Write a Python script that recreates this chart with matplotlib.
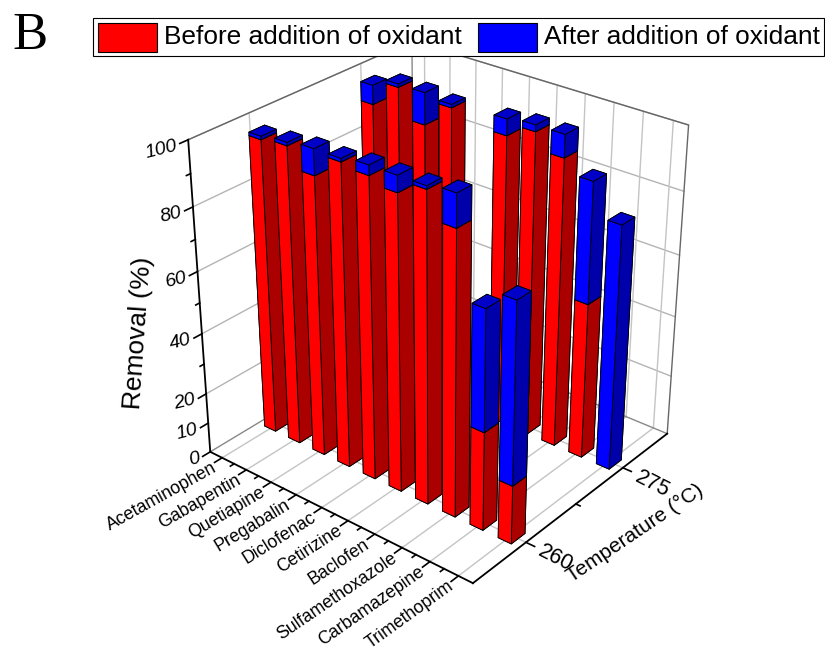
#!/usr/bin/env python3
# -*- coding: utf-8 -*-
import matplotlib
matplotlib.use('Agg')
import matplotlib.pyplot as plt
from matplotlib.patches import Rectangle
from mpl_toolkits.mplot3d import proj3d

plt.rcParams['font.family'] = ['Liberation Sans', 'DejaVu Sans']

medicaments = ['Acetaminophen', 'Gabapentin', 'Quetiapine', 'Pregabalin', 'Diclofenac',
               'Cetirizine', 'Baclofen', 'Sulfamethoxazole', 'Carbamazepine', 'Trimethoprim']
temperatures = [260, 275]
ticks_removal = [0, 10, 20, 40, 60, 80, 100]
mineurs_removal = [30, 50, 70, 90]

# removal before oxidant, and what the oxidant adds on top
avant_260 = [95, 96, 90, 97, 96, 94, 98, 90, 32, 19]
ajout_260 = [1, 1, 8, 1, 3, 5, 1, 10, 38, 57]
avant_275 = [90, 98, 89, 97, 0, 94, 98, 93, 51, 0]
ajout_275 = [6, 1, 10, 1, 0, 5, 2, 7, 38, 79]

ROUGE = ['#AA0000', '#CC0000', '#FF0000', '#FF0000', '#AA0000', '#AA0000']
BLEU = ['#0000AA', '#0000C8', '#0000FF', '#0000FF', '#0000AA', '#0000AA']

x_min, x_max = 0.5, 10.5
y_min, y_max = 252.5, 282.5
largeur, profondeur = 0.46, 2.0

fig = plt.figure(figsize=(8.25, 6.5), dpi=100)
cote, cx, cy = 700, 431, 304
ax = fig.add_axes([(cx - cote / 2) / 825, 1 - (cy + cote / 2) / 650, cote / 825, cote / 650],
                  projection='3d', computed_zorder=False)
ax.set_proj_type('persp', focal_length=0.5)
ax.view_init(elev=29, azim=-50.7)
ax.set_box_aspect((334, 316, 340), zoom=0.826)
ax.set_axis_off()

# walls and floor
for z in ticks_removal[2:]:
    ax.plot([x_min, x_min], [y_min, y_max], [z, z], color='#b4b4b4', lw=1, zorder=1)
    ax.plot([x_min, x_max], [y_max, y_max], [z, z], color='#b4b4b4', lw=1, zorder=1)
for t in temperatures:
    ax.plot([x_min, x_min], [t, t], [0, 100], color='#c4c4c4', lw=1, zorder=1)
    ax.plot([x_min, x_max], [t, t], [0, 0], color='#c4c4c4', lw=1, zorder=1)
for i in range(1, 11):
    ax.plot([i, i], [y_max, y_max], [0, 100], color='#c4c4c4', lw=1, zorder=1)
    ax.plot([i, i], [y_min, y_max], [0, 0], color='#c4c4c4', lw=1, zorder=1)
ax.plot([x_min, x_min, x_max, x_max], [y_min, y_max, y_max, y_max], [100, 100, 100, 0],
        color='#666666', lw=1, zorder=2)
ax.plot([x_min, x_min], [y_max, y_max], [0, 100], color='#888888', lw=1, zorder=2)
ax.plot([x_min, x_max], [y_max, y_max], [0, 0], color='#888888', lw=1, zorder=2)
ax.plot([x_min, x_min], [y_min, y_max], [0, 0], color='#888888', lw=1, zorder=2)

# main axes
ax.plot([x_min, x_min], [y_min, y_min], [0, 100], color='k', lw=1.3, zorder=3)
ax.plot([x_min, x_max], [y_min, y_min], [0, 0], color='k', lw=1.3, zorder=3)
ax.plot([x_max, x_max], [y_min, y_max], [0, 0], color='k', lw=1.3, zorder=3)

# back to front, otherwise the bars overlap the wrong way
zo = 10
for t, avant, ajout in ((275, avant_275, ajout_275), (260, avant_260, ajout_260)):
    for i in range(len(medicaments)):
        x0 = i + 1 - largeur / 2
        y0 = t - profondeur / 2
        if avant[i] > 0:
            ax.bar3d(x0, y0, 0, largeur, profondeur, avant[i], color=ROUGE, shade=False,
                     edgecolor='k', linewidth=0.6, zorder=zo)
            zo += 1
        if ajout[i] > 0:
            ax.bar3d(x0, y0, avant[i], largeur, profondeur, ajout[i], color=BLEU, shade=False,
                     edgecolor='k', linewidth=0.6, zorder=zo)
            zo += 1

ax.set_xlim(x_min, x_max)
ax.set_ylim(y_min, y_max)
ax.set_zlim(0, 100)


def texte(x, y, z, s, dx, dy, **kw):
    # Text3D ignores rotation, so project first and place it as 2D text
    xp, yp, _ = proj3d.proj_transform(x, y, z, ax.get_proj())
    ax.annotate(s, xy=(xp, yp), xycoords='data', xytext=(dx, dy), textcoords='offset pixels',
                rotation_mode='anchor', zorder=3, annotation_clip=False, **kw)


for z in ticks_removal:
    ax.plot([x_min, x_min], [y_min, y_min - 1], [z, z], color='k', lw=1.2, zorder=3)
    texte(x_min, y_min, z, str(z), -11, -6, fontsize=14, rotation=14, ha='right', va='center',
          style='italic')
for z in mineurs_removal:
    ax.plot([x_min, x_min], [y_min, y_min - 0.5], [z, z], color='k', lw=1.2, zorder=3)

for i, nom in enumerate(medicaments):
    ax.plot([i + 1, i + 1], [y_min, y_min - 1], [0, 0], color='k', lw=1.2, zorder=3)
    if i < 9:
        ax.plot([i + 1.5, i + 1.5], [y_min, y_min - 0.5], [0, 0], color='k', lw=1.2, zorder=3)
    texte(i + 1, y_min, 0, nom, -7, -9, fontsize=12.8, rotation=29 + 0.75 * i, ha='right', va='center')

for t in temperatures:
    ax.plot([x_max, x_max + 0.3], [t, t], [0, 0], color='k', lw=1.2, zorder=3)
    texte(x_max, t, 0, str(t), 30, -16, fontsize=15.5, rotation=-27, ha='center', va='center')
ax.plot([x_max, x_max + 0.15], [267.5, 267.5], [0, 0], color='k', lw=1.2, zorder=3)

# axis titles and legend sit in figure coordinates
fig.text(138 / 825, 1 - 333 / 650, 'Removal (%)', fontsize=19, rotation=86, ha='center', va='center')
fig.text(635 / 825, 1 - 533 / 650, 'Temperature (°C)', fontsize=15, rotation=34, ha='center', va='center')
fig.text(30 / 825, 1 - 36 / 650, 'B', fontsize=38, family='Liberation Serif', ha='center', va='center')

for (x, y, w, h, fc, ec) in ((93, 18, 731, 38, 'white', 'k'),
                             (98, 23, 59, 29, '#FF0000', 'k'),
                             (478, 23, 59, 29, '#0000FF', 'k')):
    fig.add_artist(Rectangle((x / 825, 1 - (y + h) / 650), w / 825, h / 650, facecolor=fc,
                             edgecolor=ec, lw=0.8, transform=fig.transFigure))
fig.text(164 / 825, 1 - 37 / 650, 'Before addition of oxidant', fontsize=18.9, va='center')
fig.text(544 / 825, 1 - 37 / 650, 'After addition of oxidant', fontsize=18.9, va='center')

plt.savefig('out.png', dpi=100)
